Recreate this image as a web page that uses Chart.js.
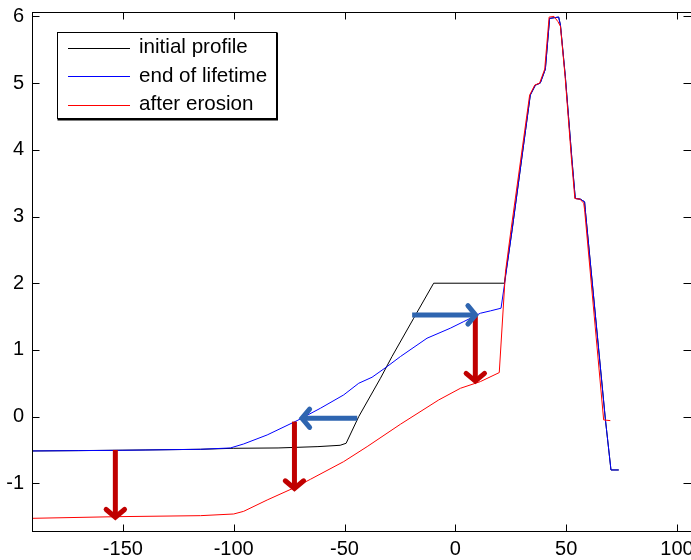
<!DOCTYPE html>
<html>
<head>
<meta charset="utf-8">
<script src="https://cdn.jsdelivr.net/npm/chart.js@4.4.1/dist/chart.umd.min.js"></script>
<style>
  html, body { margin: 0; padding: 0; background: #fff; }
  canvas { display: block; }
</style>
</head>
<body>
<canvas id="profile-chart" width="691" height="560"></canvas>
<script>
// Profile data (cross-shore distance, elevation)
const initialX = [-191, -170, -140, -115, -100, -80, -62, -52, -49.3, -43.6, -33.8, -28.6, -18.8, -9.8, 22.1,
    25.6, 33.8, 36.1, 38.3, 40.6, 42.5, 46.6, 47.4, 49.6, 52.6, 54.1, 56.4, 58.3, 58.6, 67.7, 70.2, 73.7];
const initialY = [-0.515, -0.51, -0.5, -0.49, -0.475, -0.47, -0.45, -0.43, -0.4, 0.0, 0.575, 0.9, 1.475, 2.0, 2.0,
    2.8, 4.82, 4.97, 5.0, 5.21, 5.97, 5.99, 5.87, 5.1, 3.85, 3.27, 3.26, 3.22, 3.1, -0.05, -0.8, -0.8];

const lifetimeX = [-191, -150, -115, -101.5, -95.5, -84.9, -71.4, -60.9, -50.4, -43.6, -37.6, -30.8, -24.8, -12.8, -2.3, 3.8, 11.3, 15.8, 20.6, 22.1,
    25.6, 33.8, 36.1, 38.3, 40.6, 42.5, 46.6, 47.4, 49.6, 52.6, 54.1, 56.4, 58.3, 58.6, 67.7, 70.2, 73.7];
const lifetimeY = [-0.515, -0.505, -0.49, -0.47, -0.41, -0.275, -0.06, 0.125, 0.325, 0.5, 0.59, 0.75, 0.9, 1.175, 1.325, 1.425, 1.55, 1.585, 1.625, 1.97,
    2.8, 4.82, 4.97, 5.0, 5.21, 5.97, 5.99, 5.87, 5.1, 3.85, 3.27, 3.26, 3.22, 3.1, -0.05, -0.8, -0.8];

const erosionX = [-191, -152.6, -115, -100, -95.5, -84.9, -72.9, -65.4, -50.4, -39.8, -24.8, -7.5, 2.3, 11.3, 19.8, 22.6,
    25.1, 33.5, 35.8, 38.0, 40.3, 42.3, 44.5, 46.3, 47.4, 49.5, 52.4, 53.9, 56.2, 57.9, 58.3, 66.9, 69.9];
const erosionY = [-1.525, -1.5, -1.485, -1.46, -1.42, -1.25, -1.07, -0.94, -0.675, -0.45, -0.115, 0.25, 0.425, 0.525, 0.66, 2.17,
    2.8, 4.82, 4.97, 5.0, 5.21, 5.99, 6.0, 5.92, 5.85, 5.1, 3.85, 3.27, 3.26, 3.2, 3.1, -0.05, -0.06];

// Annotation arrows in data units: [fromX, fromY, toX, toY]
const erosionArrows = [[-153.4, -0.5, -153.4, -1.53], [-72.6, -0.075, -72.6, -1.1], [9.0, 1.525, 9.0, 0.51]];
const shiftArrows = [[-44.3, -0.025, -69.9, -0.025], [-19.5, 1.525, 9.8, 1.525]];

const seriesLabels = ['initial profile', 'end of lifetime', 'after erosion'];
const xTickStep = 50;
const yTickStep = 1;

const FONT = 'Liberation Sans, Arial, Helvetica, sans-serif';

function toPoints(xs, ys) {
    return xs.map((x, i) => ({ x: x, y: ys[i] }));
}

function drawArrow(ctx, x0, y0, x1, y1, color) {
    const ang = Math.atan2(y1 - y0, x1 - x0);
    const head = 13;
    ctx.save();
    ctx.strokeStyle = color;
    ctx.lineWidth = 5;
    ctx.lineCap = 'butt';
    ctx.beginPath();
    ctx.moveTo(x0, y0);
    ctx.lineTo(x1 - Math.cos(ang) * 2, y1 - Math.sin(ang) * 2);
    ctx.stroke();
    ctx.lineCap = 'round';
    ctx.lineJoin = 'miter';
    ctx.beginPath();
    ctx.moveTo(x1 - head * Math.cos(ang - Math.PI / 4), y1 - head * Math.sin(ang - Math.PI / 4));
    ctx.lineTo(x1 - 1.5 * Math.cos(ang), y1 - 1.5 * Math.sin(ang));
    ctx.lineTo(x1 - head * Math.cos(ang + Math.PI / 4), y1 - head * Math.sin(ang + Math.PI / 4));
    ctx.stroke();
    ctx.restore();
}

// Arrows, MATLAB style box with inward ticks, and the boxed legend
const matlabFrame = {
    id: 'matlabFrame',
    afterDatasetsDraw(chart) {
        const { ctx, chartArea: a, scales: { x, y } } = chart;

        erosionArrows.forEach(r => drawArrow(ctx, x.getPixelForValue(r[0]), y.getPixelForValue(r[1]),
            x.getPixelForValue(r[2]), y.getPixelForValue(r[3]), '#c00000'));
        shiftArrows.forEach(r => drawArrow(ctx, x.getPixelForValue(r[0]), y.getPixelForValue(r[1]),
            x.getPixelForValue(r[2]), y.getPixelForValue(r[3]), '#2e65b0'));

        // right edge of the box sits just past the canvas, as in the original
        const L = Math.round(a.left) + 0.5;
        const R = Math.round(a.right) + 0.5;
        const T = Math.round(a.top) + 0.5;
        const B = Math.round(a.bottom) - 0.5;
        const tl = 7;
        ctx.save();
        ctx.strokeStyle = '#000';
        ctx.lineWidth = 1;
        ctx.strokeRect(L, T, R - L, B - T);
        ctx.beginPath();
        x.ticks.forEach(t => {
            const px = Math.round(x.getPixelForValue(t.value)) + 0.5;
            ctx.moveTo(px, B); ctx.lineTo(px, B - tl);
            ctx.moveTo(px, T); ctx.lineTo(px, T + tl);
        });
        y.ticks.forEach(t => {
            const py = Math.round(y.getPixelForValue(t.value)) + 0.5;
            ctx.moveTo(L, py); ctx.lineTo(L + tl, py);
            ctx.moveTo(R, py); ctx.lineTo(R - tl - 1, py);
        });
        ctx.stroke();

        // legend box
        const bx = 57.5, by = 32.5, bw = 219, bh = 86;
        ctx.fillStyle = '#fff';
        ctx.fillRect(bx, by, bw, bh);
        ctx.strokeRect(bx, by, bw, bh);
        ctx.lineWidth = 2;
        ctx.beginPath();
        ctx.moveTo(bx + bw + 0.5, by); ctx.lineTo(bx + bw + 0.5, by + bh + 1);
        ctx.lineTo(bx, by + bh + 1);
        ctx.stroke();
        ctx.font = '20.6px ' + FONT;
        ctx.textBaseline = 'middle';
        ctx.textAlign = 'left';
        chart.data.datasets.forEach((ds, i) => {
            const ry = 47.5 + i * 28.5;
            ctx.strokeStyle = ds.borderColor;
            ctx.lineWidth = 1;
            ctx.beginPath();
            ctx.moveTo(68, Math.round(ry) + 0.5);
            ctx.lineTo(130, Math.round(ry) + 0.5);
            ctx.stroke();
            ctx.fillStyle = '#000';
            ctx.fillText(ds.label, 139, ry);
        });
        ctx.restore();
    }
};

const profileChart = new Chart(document.getElementById('profile-chart'), {
    type: 'scatter',
    data: {
        datasets: [
            { label: seriesLabels[0], data: toPoints(initialX, initialY), borderColor: '#000000', order: 3 },
            { label: seriesLabels[1], data: toPoints(lifetimeX, lifetimeY), borderColor: '#0000ff', order: 2 },
            { label: seriesLabels[2], data: toPoints(erosionX, erosionY), borderColor: '#ff0000', order: 1 }
        ]
    },
    options: {
        responsive: false,
        animation: false,
        devicePixelRatio: 1,
        showLine: true,
        layout: { padding: { top: 12, right: 0, left: 0, bottom: 0 } },
        elements: {
            point: { radius: 0, hoverRadius: 0 },
            line: { borderWidth: 1, tension: 0, fill: false }
        },
        plugins: {
            legend: { display: false },
            tooltip: { enabled: false }
        },
        scales: {
            x: {
                type: 'linear',
                min: -191,
                max: 106.3,
                grid: { display: false, drawTicks: false },
                border: { display: false },
                ticks: {
                    stepSize: xTickStep,
                    includeBounds: false,
                    maxRotation: 0,
                    autoSkip: false,
                    padding: 5,
                    color: '#000',
                    font: { family: FONT, size: 20 }
                },
                afterFit(scale) {
                    scale.height = 28;
                    scale.paddingLeft = 0;
                    scale.paddingRight = 0;
                }
            },
            y: {
                type: 'linear',
                min: -1.73,
                max: 6.066,
                grid: { display: false, drawTicks: false },
                border: { display: false },
                ticks: {
                    stepSize: yTickStep,
                    includeBounds: false,
                    autoSkip: false,
                    padding: 8,
                    color: '#000',
                    font: { family: FONT, size: 20 }
                },
                afterFit(scale) {
                    scale.width = 32;
                    scale.paddingTop = 0;
                    scale.paddingBottom = 0;
                }
            }
        }
    },
    plugins: [matlabFrame]
});
</script>
</body>
</html>
